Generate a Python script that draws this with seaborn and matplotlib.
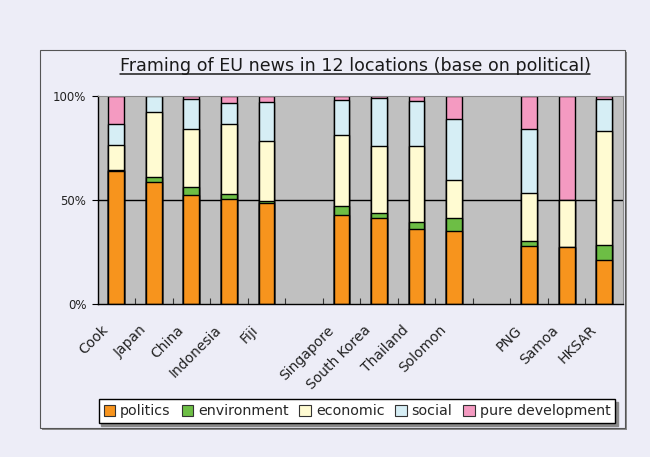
import pandas as pd
import matplotlib
matplotlib.use("Agg")
import matplotlib.pyplot as plt
import seaborn as sns
from matplotlib.patches import Rectangle, Patch
from matplotlib.lines import Line2D
from matplotlib.transforms import ScaledTranslation

# values (percent of each location's political news)
groups = [
    ["Cook", "Japan", "China", "Indonesia", "Fiji"],
    ["Singapore", "South Korea", "Thailand", "Solomon"],
    ["PNG", "Samoa", "HKSAR"],
]
politics    = [64.0, 58.6, 52.3, 50.4, 48.6, 43.0, 41.6, 36.3, 35.2, 27.8, 27.5, 21.3]
environment = [0.3, 2.7, 3.9, 2.6, 1.2, 4.2, 2.1, 3.1, 6.4, 2.8, 0.0, 7.3]
economic    = [12.0, 31.2, 27.8, 33.7, 28.6, 33.9, 32.1, 36.4, 18.2, 22.7, 22.4, 54.6]
social      = [10.4, 7.5, 14.6, 9.9, 18.7, 17.1, 23.1, 21.8, 29.0, 30.9, 0.0, 15.5]
pure_dev    = [13.3, 0.0, 1.4, 3.4, 2.9, 1.8, 1.1, 2.4, 11.2, 15.8, 50.1, 1.3]

series = ["politics", "environment", "economic", "social", "pure development"]
colors = ["#F7941D", "#6DBE45", "#FFFBD2", "#D6EEF5", "#F49AC1"]
bg = "#EDEDF7"

# slot positions with one empty slot between groups
locations, pos = [], []
slot = 0
for g in groups:
    for name in g:
        locations.append(name)
        pos.append(slot)
        slot += 1
    slot += 1
nslots = slot - 1

df = pd.DataFrame({"loc": locations, "x": pos, "politics": politics,
                   "environment": environment, "economic": economic,
                   "social": social, "pure development": pure_dev})
cum = df[series].cumsum(axis=1)

sns.set_theme(style="white")
plt.rcParams["font.family"] = ["DejaVu Sans"]

fig = plt.figure(figsize=(6.5, 4.57), dpi=100, facecolor=bg)

# outer framed box with a small shadow
W, H = 650, 457
fig.add_artist(Rectangle((42 / W, 1 - 430 / H), 585 / W, 378 / H, transform=fig.transFigure,
                         facecolor="#8a8a8a", edgecolor="none", zorder=-2))
fig.add_artist(Rectangle((40 / W, 1 - 428 / H), 585 / W, 378 / H, transform=fig.transFigure,
                         facecolor=bg, edgecolor="#555555", lw=0.8, zorder=-1))

ax = fig.add_axes([97.5 / W, 1 - 304.3 / H, 525.5 / W, 208.3 / H])
ax.set_facecolor("#C0C0C0")

# stacked bars: draw cumulative totals from the top layer down
for s, c in reversed(list(zip(series, colors))):
    sns.barplot(x=df["x"], y=cum[s], native_scale=True, width=0.42, color=c,
                saturation=1, edgecolor="black", linewidth=1, errorbar=None, ax=ax)

ax.axhline(50, color="black", lw=1, zorder=0.5)
ax.set_xlim(-0.5, nslots - 0.5)
ax.set_ylim(0, 100)
ax.set_xlabel("")
ax.set_ylabel("")

ax.set_yticks([0, 50, 100], ["0%", "50%", "100%"])
ax.tick_params(axis="y", labelsize=8.5, length=4, width=0.8, color="black",
               direction="out", left=True, pad=4, labelcolor="#222222")

ax.set_xticks(pos, locations)
ax.set_xticks([i + 0.5 for i in range(nslots - 1)], minor=True)
ax.tick_params(axis="x", which="major", length=0, pad=17, labelsize=10, labelcolor="#222222")
ax.tick_params(axis="x", which="minor", length=4, width=0.8, direction="in",
               color="#333333", bottom=True)
shift = ScaledTranslation(-10 / 100, 0, fig.dpi_scale_trans)
for lab in ax.get_xticklabels():
    lab.set_rotation(45)
    lab.set_ha("right")
    lab.set_va("center")
    lab.set_rotation_mode("anchor")
    lab.set_transform(lab.get_transform() + shift)

for side in ["left", "bottom"]:
    ax.spines[side].set_color("black")
    ax.spines[side].set_linewidth(1)
for side in ["top", "right"]:
    ax.spines[side].set_color("#8a8a8a")
    ax.spines[side].set_linewidth(0.8)

# underlined title
title = fig.text(355 / W, 1 - 71 / H, "Framing of EU news in 12 locations (base on political)",
                 ha="center", va="baseline", fontsize=12.6, color="#1a1a1a")
fig.canvas.draw()
bb = title.get_window_extent(fig.canvas.get_renderer())
yl = (1 - 71 / H) * H - 2.5
fig.add_artist(Line2D([bb.x0 / W, bb.x1 / W], [yl / H, yl / H], transform=fig.transFigure,
                      color="#1a1a1a", lw=1.1))

handles = [Patch(facecolor=c, edgecolor="#333333", lw=0.8) for c in colors]
fig.legend(handles, series, loc="center", bbox_to_anchor=(357 / W, 1 - 411 / H),
           ncol=5, fontsize=10.3, frameon=True, fancybox=False, edgecolor="black",
           facecolor="white", framealpha=1, handlelength=0.8, handleheight=0.8,
           handletextpad=0.35, columnspacing=0.75, borderpad=0.35,
           shadow={"color": "#8a8a8a", "alpha": 1})

fig.savefig("out.png", dpi=100, facecolor=bg)
